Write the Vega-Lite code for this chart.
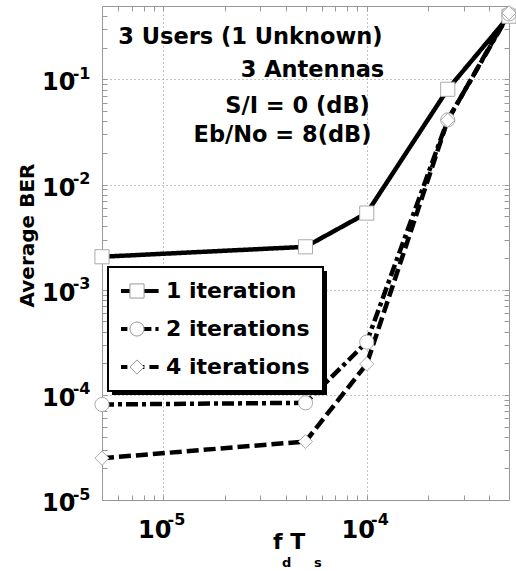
{
  "$schema": "https://vega.github.io/schema/vega-lite/v6.json",
  "width": 407,
  "height": 494,
  "autosize": {"type": "none"},
  "padding": {"left": 102, "top": 6, "right": 7, "bottom": 71},
  "datasets": {
    "ber": [
      {"fdTs": 5e-6, "ber": 0.00206, "series": "1 iteration"},
      {"fdTs": 5e-5, "ber": 0.00256, "series": "1 iteration"},
      {"fdTs": 1e-4, "ber": 0.00536, "series": "1 iteration"},
      {"fdTs": 2.5e-4, "ber": 0.0807, "series": "1 iteration"},
      {"fdTs": 5e-4, "ber": 0.40, "series": "1 iteration"},
      {"fdTs": 5e-6, "ber": 8.1e-5, "series": "2 iterations"},
      {"fdTs": 5e-5, "ber": 8.4e-5, "series": "2 iterations"},
      {"fdTs": 1e-4, "ber": 3.18e-4, "series": "2 iterations"},
      {"fdTs": 2.5e-4, "ber": 0.0413, "series": "2 iterations"},
      {"fdTs": 5e-4, "ber": 0.42, "series": "2 iterations"},
      {"fdTs": 5e-6, "ber": 2.5e-5, "series": "4 iterations"},
      {"fdTs": 5e-5, "ber": 3.6e-5, "series": "4 iterations"},
      {"fdTs": 1e-4, "ber": 1.97e-4, "series": "4 iterations"},
      {"fdTs": 2.5e-4, "ber": 0.041, "series": "4 iterations"},
      {"fdTs": 5e-4, "ber": 0.43, "series": "4 iterations"}
    ],
    "notes": [
      {"x": 2.683e-5, "y": 0.2553, "text": "3 Users (1 Unknown)"},
      {"x": 5.41e-5, "y": 0.1237, "text": "3 Antennas"},
      {"x": 4.57e-5, "y": 0.0561, "text": "S/I = 0 (dB)"},
      {"x": 3.855e-5, "y": 0.0297, "text": "Eb/No = 8(dB)"}
    ]
  },
  "title": {
    "text": "f T",
    "subtitle": "\u200b\u00a0\u00a0d\u00a0\u00a0\u00a0\u00a0\u00a0s",
    "orient": "bottom",
    "anchor": "start",
    "frame": "group",
    "dx": 171,
    "offset": -10,
    "font": "DejaVu Sans",
    "fontSize": 22,
    "fontWeight": "bold",
    "color": "black",
    "subtitleFont": "DejaVu Sans",
    "subtitleFontSize": 13,
    "subtitleFontWeight": "bold",
    "subtitleColor": "black",
    "subtitlePadding": 3
  },
  "layer": [
    {
      "data": {"name": "ber"},
      "mark": {"type": "line", "stroke": "black", "strokeWidth": 4.5},
      "encoding": {
        "x": {
          "field": "fdTs", "type": "quantitative",
          "scale": {"type": "log", "domain": [5e-6, 5e-4], "nice": false},
          "axis": {
            "orient": "bottom",
            "values": [6e-6, 7e-6, 8e-6, 9e-6, 1e-5, 2e-5, 3e-5, 4e-5, 5e-5, 6e-5, 7e-5, 8e-5, 9e-5, 1e-4, 2e-4, 3e-4, 4e-4],
            "labelExpr": "abs(log(datum.value)/LN10 - round(log(datum.value)/LN10)) < 1e-6 ? '10' : ''",
            "grid": false, "domain": false, "ticks": true, "tickSize": -5, "tickColor": "#999",
            "labelFont": "DejaVu Sans", "labelFontSize": 24, "labelFontWeight": "bold", "labelColor": "black",
            "labelPadding": 35, "labelBaseline": "middle", "labelOffset": -9, "labelFlush": false, "labelOverlap": false, "title": null
          }
        },
        "y": {
          "field": "ber", "type": "quantitative",
          "scale": {"type": "log", "domain": [1e-5, 0.5], "nice": false},
          "axis": {
            "orient": "left",
            "values": [1e-5, 2e-5, 3e-5, 4e-5, 5e-5, 6e-5, 7e-5, 8e-5, 9e-5, 1e-4, 2e-4, 3e-4, 4e-4, 5e-4, 6e-4, 7e-4, 8e-4, 9e-4, 1e-3, 2e-3, 3e-3, 4e-3, 5e-3, 6e-3, 7e-3, 8e-3, 9e-3, 1e-2, 2e-2, 3e-2, 4e-2, 5e-2, 6e-2, 7e-2, 8e-2, 9e-2, 1e-1, 2e-1, 3e-1, 4e-1],
            "labelExpr": "abs(log(datum.value)/LN10 - round(log(datum.value)/LN10)) < 1e-6 ? '10' : ''",
            "grid": false, "domain": false, "ticks": true, "tickSize": -5, "tickColor": "#999",
            "labelFont": "DejaVu Sans", "labelFontSize": 24, "labelFontWeight": "bold", "labelColor": "black",
            "labelPadding": 32, "labelBaseline": "middle", "labelOffset": 3.5, "labelFlush": false, "labelOverlap": false,
            "title": "Average BER", "titleFont": "DejaVu Sans", "titleFontSize": 20, "titleFontWeight": "bold",
            "titleColor": "black", "titleX": -69, "titleY": 229, "titleBaseline": "alphabetic", "titleAngle": -90, "titleAlign": "center"
          }
        },
        "strokeDash": {
          "field": "series", "type": "nominal",
          "scale": {"range": [[1, 0], [12, 4, 4, 4], [12, 5]]},
          "legend": {
            "orient": "none", "legendX": 6, "legendY": 261, "title": null, "zindex": 1, "clipHeight": 22,
            "symbolType": "M-3.6,0H3.6", "symbolSize": 144, "symbolStrokeWidth": 4, "symbolStrokeColor": "black",
            "labelFont": "DejaVu Sans", "labelFontSize": 22, "labelFontWeight": "bold", "labelColor": "black",
            "padding": 13, "symbolOffset": 5, "labelOffset": 18, "rowPadding": 16,
            "fillColor": "white", "strokeColor": "black",
            "encode": {"legend": {"update": {"strokeWidth": {"value": 2}}}}
          }
        }
      }
    },
    {
      "data": {"name": "ber"},
      "mark": {"type": "point", "filled": true, "stroke": "#aaaaaa", "strokeWidth": 1, "size": 200, "opacity": 1},
      "encoding": {
        "x": {
          "field": "fdTs", "type": "quantitative",
          "scale": {"type": "log", "domain": [5e-6, 5e-4], "nice": false},
          "axis": {
            "orient": "bottom", "values": [1e-5, 1e-4],
            "labelExpr": "'-' + (-round(log(datum.value)/LN10))",
            "grid": true, "gridDash": [1, 3], "gridColor": "#888", "gridOpacity": 1,
            "ticks": false, "domain": false,
            "labelFont": "DejaVu Sans", "labelFontSize": 16, "labelFontWeight": "bold", "labelColor": "black",
            "labelPadding": 19, "labelBaseline": "middle", "labelOffset": 12.7, "labelFlush": false, "title": null
          }
        },
        "y": {
          "field": "ber", "type": "quantitative",
          "scale": {"type": "log", "domain": [1e-5, 0.5], "nice": false},
          "axis": {
            "orient": "left", "values": [1e-5, 1e-4, 1e-3, 1e-2, 1e-1],
            "labelExpr": "'-' + (-round(log(datum.value)/LN10))",
            "grid": true, "gridDash": [1, 3], "gridColor": "#888", "gridOpacity": 1,
            "ticks": false, "domain": false,
            "labelFont": "DejaVu Sans", "labelFontSize": 16, "labelFontWeight": "bold", "labelColor": "black",
            "labelPadding": 12, "labelBaseline": "middle", "labelOffset": -6, "labelFlush": false, "title": null
          }
        },
        "shape": {
          "field": "series", "type": "nominal",
          "scale": {"domain": ["1 iteration", "2 iterations", "4 iterations"], "range": ["square", "circle", "diamond"]},
          "legend": {
            "orient": "none", "legendX": 6, "legendY": 261, "title": null, "zindex": 2, "clipHeight": 22,
            "labelExpr": "''",
            "labelFont": "DejaVu Sans", "labelFontSize": 22, "labelFontWeight": "bold",
            "padding": 13, "symbolOffset": 5, "labelOffset": 18, "rowPadding": 16,
            "symbolSize": 200, "symbolFillColor": "white", "symbolStrokeColor": "#999", "symbolStrokeWidth": 1,
            "encode": {"symbols": {"update": {"stroke": {"value": "#999"}, "strokeWidth": {"value": 1}, "fill": {"value": "white"}, "opacity": {"value": 1}}}}
          }
        },
        "fill": {
          "field": "series", "type": "nominal",
          "sort": ["1 iteration", "2 iterations", "4 iterations"],
          "scale": {"range": ["white", "white", "white"]},
          "legend": {
            "orient": "none", "legendX": 10, "legendY": 265, "title": null, "zindex": 0, "clipHeight": 22,
            "labelFont": "DejaVu Sans", "labelFontSize": 22, "labelFontWeight": "bold", "labelColor": "black",
            "padding": 13, "symbolOffset": 5, "labelOffset": 18, "rowPadding": 16,
            "symbolSize": 144,
            "fillColor": "black"
          }
        }
      }
    },
    {
      "data": {"name": "notes"},
      "mark": {"type": "text", "font": "DejaVu Sans", "fontSize": 22.5, "fontWeight": "bold", "align": "center", "baseline": "middle", "color": "black"},
      "encoding": {
        "x": {
          "field": "x", "type": "quantitative",
          "scale": {"type": "log", "domain": [5e-6, 5e-4], "nice": false},
          "axis": {
            "orient": "top",
            "values": [6e-6, 7e-6, 8e-6, 9e-6, 1e-5, 2e-5, 3e-5, 4e-5, 5e-5, 6e-5, 7e-5, 8e-5, 9e-5, 1e-4, 2e-4, 3e-4, 4e-4],
            "labels": false, "grid": false, "domain": false, "ticks": true, "tickSize": -5, "tickColor": "#999", "title": null
          }
        },
        "y": {
          "field": "y", "type": "quantitative",
          "scale": {"type": "log", "domain": [1e-5, 0.5], "nice": false},
          "axis": {
            "orient": "right",
            "values": [2e-5, 3e-5, 4e-5, 5e-5, 6e-5, 7e-5, 8e-5, 9e-5, 1e-4, 2e-4, 3e-4, 4e-4, 5e-4, 6e-4, 7e-4, 8e-4, 9e-4, 1e-3, 2e-3, 3e-3, 4e-3, 5e-3, 6e-3, 7e-3, 8e-3, 9e-3, 1e-2, 2e-2, 3e-2, 4e-2, 5e-2, 6e-2, 7e-2, 8e-2, 9e-2, 1e-1, 2e-1, 3e-1, 4e-1],
            "labels": false, "grid": false, "domain": false, "ticks": true, "tickSize": -5, "tickColor": "#999", "title": null
          }
        },
        "text": {"field": "text", "type": "nominal"}
      }
    }
  ],
  "resolve": {"axis": {"x": "independent", "y": "independent"}},
  "config": {
    "view": {"stroke": "#999", "strokeWidth": 1},
    "font": "DejaVu Sans",
    "background": "white"
  }
}
